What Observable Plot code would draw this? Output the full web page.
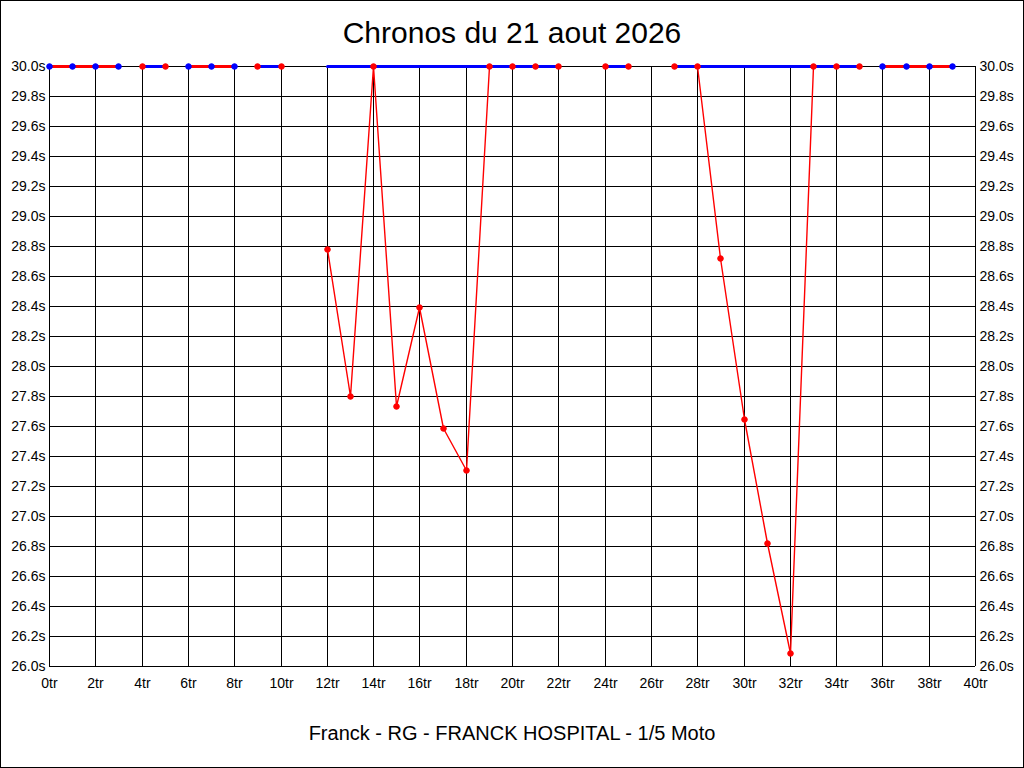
<!DOCTYPE html>
<html>
<head>
<meta charset="utf-8">
<script src="https://cdn.jsdelivr.net/npm/d3@7"></script>
<script src="https://cdn.jsdelivr.net/npm/@observablehq/plot@0.6"></script>
<style>
  html, body { margin: 0; padding: 0; background: #fff; }
  #wrap { position: relative; width: 1024px; height: 768px; overflow: hidden; background: #fff; font-family: "Liberation Sans", Arial, sans-serif; }
  #frame { position: absolute; left: 0; top: 0; width: 1024px; height: 768px; box-sizing: border-box; border: 1px solid #000; pointer-events: none; }
  #title { height: 50px; box-sizing: border-box; padding-top: 15px; line-height: 36px; font-size: 30px; text-align: center; color: #000; }
  #chart svg { display: block; }
  #footer { height: 58px; line-height: 46px; font-size: 20px; text-align: center; color: #000; }
</style>
</head>
<body>
<div id="wrap">
  <div id="title">Chronos du 21 aout 2026</div>
  <div id="chart"></div>
  <div id="footer">Franck - RG - FRANCK HOSPITAL - 1/5 Moto</div>
  <div id="frame"></div>
</div>
<script>
// Lap numbers (tr) and lap times (s); times above 30 s are shown capped at 30.0 s
const lapNumbers = [0,1,2,3, 4,5, 6,7,8, 9,10, 12,13,14,15,16,17,18,19,20,21,22, 24,25, 27,28,29,30,31,32,33,34,35, 36,37,38,39];
const lapTimes   = [30,30,30,30, 30,30, 30,30,30, 30,30, 28.78,27.80,30,27.73,28.39,27.59,27.31,30,30,30,30, 30,30, 30,30,28.72,27.65,26.82,26.09,30,30,30, 30,30,30,30];
const lapSession = [1,1,1,1, 2,2, 3,3,3, 4,4, 5,5,5,5,5,5,5,5,5,5,5, 6,6, 7,7,7,7,7,7,7,7,7, 8,8,8,8];
// per session: marker colour and top-bar colour
const sessionIds       = [1, 2, 3, 4, 5, 6, 7, 8];
const sessionDotColor  = ["blue","red","blue","red","red","red","red","blue"];
const sessionBarColor  = ["red","blue","red","blue","blue","blue","blue","red"];

const xTicks = d3.range(0, 41, 2);
const yTicks = d3.range(0, 21).map(i => +(26 + i * 0.2).toFixed(1));
const yCap = 30;

const laps = lapNumbers.map((n, i) => {
  const s = lapSession[i];
  const k = sessionIds.indexOf(s);
  return { lap: n, time: lapTimes[i], session: s, dot: sessionDotColor[k], bar: sessionBarColor[k] };
});

const font = "'Liberation Sans', Arial, sans-serif";

const chart = Plot.plot({
  width: 1024,
  height: 660,
  marginLeft: 49,
  marginRight: 49,
  marginTop: 16,
  marginBottom: 44,
  style: { fontFamily: font, fontSize: "14px", background: "transparent", color: "#000" },
  x: { domain: [0, 40], round: true },
  y: { domain: [26, 30], round: true },
  color: { type: "identity" },
  marks: [
    Plot.ruleX(xTicks, { stroke: "#000", strokeWidth: 1 }),
    Plot.ruleY(yTicks, { stroke: "#000", strokeWidth: 1 }),
    Plot.axisX({ ticks: xTicks, tickFormat: d => d + "tr", tickSize: 0, tickPadding: 12, label: null, fontSize: 14 }),
    Plot.axisY({ anchor: "left", ticks: yTicks, tickFormat: d => d.toFixed(1) + "s", tickSize: 0, tickPadding: 4, label: null, fontSize: 14 }),
    Plot.axisY({ anchor: "right", ticks: yTicks, tickFormat: d => d.toFixed(1) + "s", tickSize: 0, tickPadding: 4, label: null, fontSize: 14 }),
    Plot.line(laps, { x: "lap", y: "time", z: "session", stroke: "red", strokeWidth: 1.4, curve: "linear" }),
    Plot.line(laps, { x: "lap", y: () => yCap, z: "session", stroke: "bar", strokeWidth: 3 }),
    Plot.dot(laps, { x: "lap", y: "time", fill: "dot", stroke: "dot", r: 2.8, strokeWidth: 1 })
  ]
});
document.getElementById("chart").appendChild(chart);
</script>
</body>
</html>
